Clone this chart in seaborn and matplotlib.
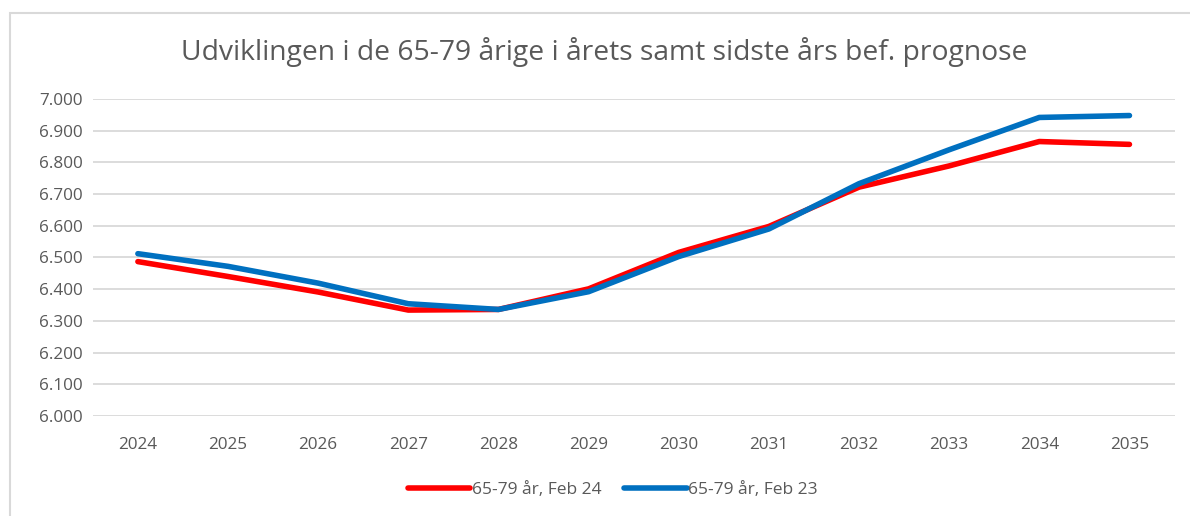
import pandas as pd
import numpy as np
import matplotlib.pyplot as plt
import seaborn as sns
from matplotlib.patches import Rectangle

# data
years = ['2024', '2025', '2026', '2027', '2028', '2029', '2030', '2031', '2032', '2033', '2034', '2035']
feb24 = [6487, 6440, 6391, 6334, 6336, 6401, 6516, 6598, 6722, 6789, 6866, 6857]
feb23 = [6512, 6472, 6419, 6354, 6336, 6392, 6503, 6590, 6733, 6840, 6942, 6948]
labels = ['65-79 år, Feb 24', '65-79 år, Feb 23']
colors = ['#ff0000', '#0070c0']
title = 'Udviklingen i de 65-79 årige i årets samt sidste års bef. prognose'

df = pd.DataFrame({'år': years * 2,
                   'antal': feb24 + feb23,
                   'serie': [labels[0]] * len(years) + [labels[1]] * len(years)})

sns.set_style('white')
plt.rcParams['font.family'] = ['Open Sans', 'DejaVu Sans']
grey = '#595959'

fig = plt.figure(figsize=(11.9, 5.16), dpi=100)
ax = fig.add_axes([0.078, 0.194, 0.909, 0.614])

sns.lineplot(data=df, x='år', y='antal', hue='serie', palette=colors,
             linewidth=4, sort=False, ax=ax, legend=False,
             solid_capstyle='round')

ax.set_xlim(-0.5, len(years) - 0.5)
ax.set_ylim(6000, 7000)
ax.set_yticks(np.arange(6000, 7001, 100))
ax.set_yticklabels([f'{v:,}'.replace(',', '.') for v in range(6000, 7001, 100)])
ax.grid(axis='y', color='#d9d9d9', linewidth=1.3)
ax.grid(axis='x', visible=False)
for s in ax.spines.values():
    s.set_visible(False)
ax.tick_params(axis='both', length=0, labelsize=12.3, labelcolor=grey)
ax.tick_params(axis='x', pad=15)
ax.tick_params(axis='y', pad=7)
ax.set_xlabel('')
ax.set_ylabel('')

fig.text(0.508, 0.9, title, ha='center', va='center', fontsize=20.3, color=grey)

# legende
handles = [plt.Line2D([], [], color=c, linewidth=4, solid_capstyle='round') for c in colors]
fig.legend(handles, labels, loc='center', bbox_to_anchor=(0.515, 0.05), ncol=2,
           frameon=False, fontsize=12.5, labelcolor=grey, handlelength=3.6,
           handletextpad=0.1, columnspacing=1.3)

# kant om diagramområdet
fig.patches.append(Rectangle((10 / 1190, -0.1), 1.2, 1.1 - 13 / 516,
                             transform=fig.transFigure, fill=False,
                             edgecolor='#d9d9d9', linewidth=1.5))

fig.savefig('out.png', dpi=100)
